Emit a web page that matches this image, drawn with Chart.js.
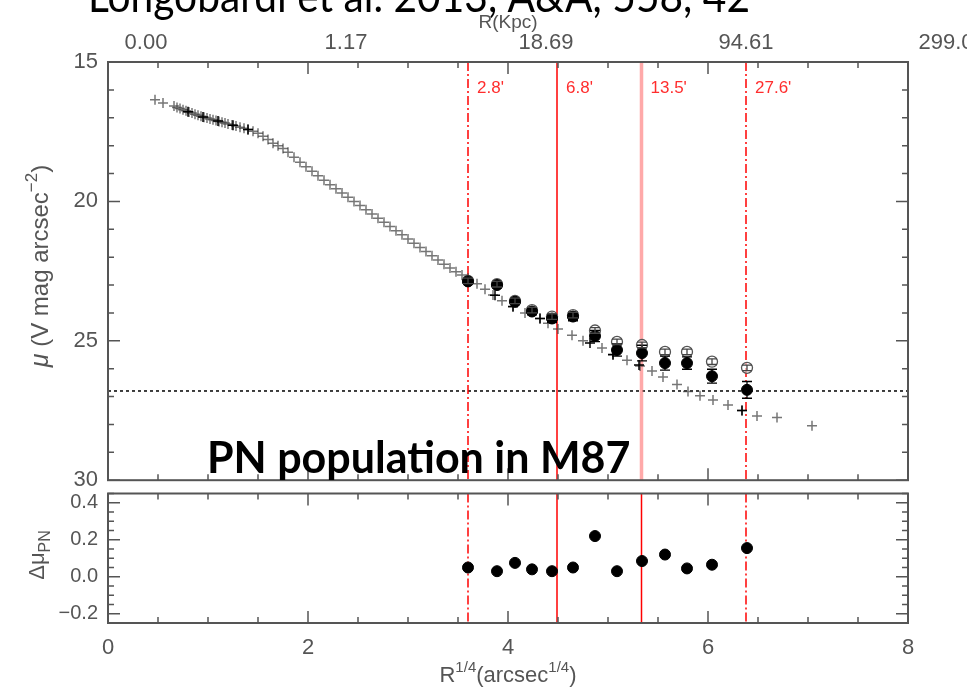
<!DOCTYPE html>
<html>
<head>
<meta charset="utf-8">
<script src="https://cdn.jsdelivr.net/npm/chart.js@4.4.0/dist/chart.umd.min.js"></script>
<style>
  body { margin: 0; background: #fff; }
  #wrap { position: relative; width: 967px; height: 690px; overflow: hidden; }
  #top { position: absolute; left: 0; top: 0; }
  #bot { position: absolute; left: 0; top: 487px; }
</style>
</head>
<body>
<div id="wrap">
  <canvas id="top" width="967" height="487"></canvas>
  <canvas id="bot" width="967" height="203"></canvas>
</div>
<script>
// surface brightness profile (crosses), x = R^1/4
var profileX = [0.47,0.55,0.66,0.69,0.72,0.75,0.78,0.81,0.84,0.87,0.90,0.93,0.96,0.99,1.02,1.05,1.08,1.11,1.14,1.17,1.20,1.24,1.28,1.32,1.36,1.40,1.45,1.50,1.55,1.60,1.65,1.70,1.75,1.80,1.86,1.92,1.98,2.04,2.10,2.16,2.22,2.28,2.34,2.40,2.46,2.52,2.58,2.64,2.70,2.76,2.82,2.88,2.94,3.00,3.06,3.12,3.18,3.24,3.30,3.36,3.42,3.48,3.54,3.60,3.69,3.77,3.85,3.94,4.05,4.17,4.32,4.40,4.50,4.64,4.75,4.94,5.05,5.19,5.32,5.44,5.55,5.69,5.80,5.92,6.05,6.20,6.34,6.49,6.69,7.04];
var profileY = [16.35,16.47,16.58,16.63,16.67,16.71,16.75,16.79,16.83,16.87,16.91,16.95,16.98,17.01,17.04,17.07,17.10,17.13,17.16,17.19,17.22,17.26,17.30,17.34,17.38,17.42,17.48,17.56,17.66,17.78,17.91,18.00,18.10,18.24,18.42,18.60,18.76,18.92,19.08,19.24,19.40,19.55,19.70,19.85,20.00,20.15,20.30,20.45,20.60,20.75,20.90,21.05,21.20,21.35,21.50,21.65,21.80,21.95,22.10,22.25,22.39,22.52,22.64,22.76,22.95,23.15,23.36,23.56,23.78,24.00,24.20,24.37,24.58,24.80,25.00,25.26,25.48,25.70,25.90,26.08,26.30,26.57,26.82,26.97,27.12,27.30,27.50,27.70,27.75,28.05];

// darker crosses
var blackX = [0.80, 0.95, 1.10, 1.25, 1.40, 3.87, 4.05, 4.32, 4.82, 5.05, 5.31, 6.34];
var blackY = [16.78, 16.97, 17.12, 17.27, 17.42, 23.37, 23.77, 24.20, 25.08, 25.50, 25.87, 27.50];

// PN points
var pnX = [3.60, 3.89, 4.07, 4.24, 4.44, 4.65, 4.87, 5.09, 5.34, 5.57, 5.79, 6.04, 6.39];
var pnY = [22.87, 23.00, 23.60, 23.95, 24.20, 24.13, 24.83, 25.33, 25.44, 25.80, 25.80, 26.27, 26.76];
var pnErr = [0.08, 0.10, 0.10, 0.12, 0.15, 0.15, 0.20, 0.22, 0.28, 0.25, 0.22, 0.25, 0.30];
var pnOpenY = [22.85, 22.97, 23.57, 23.90, 24.13, 24.08, 24.63, 25.04, 25.15, 25.40, 25.40, 25.75, 25.97];
var pnOpenErr = [0.10, 0.10, 0.10, 0.10, 0.10, 0.10, 0.10, 0.10, 0.10, 0.10, 0.10, 0.10, 0.10];

// residuals, lower panel
var deltaMu = [0.05, 0.03, 0.075, 0.04, 0.03, 0.05, 0.22, 0.03, 0.085, 0.12, 0.045, 0.065, 0.155];

// radii marked by red lines
var cutX = [3.60, 4.49, 5.335, 6.38];
var cutLabels = ["2.8'", "6.8'", "13.5'", "27.6'"];

var kpcTicks = ['0.00', '1.17', '18.69', '94.61', '299.0'];
var muTicks = [15, 20, 25, 30];
var dTicks = [-0.2, 0, 0.2, 0.4];
var dTickLabels = ['\u22120.2', '0.0', '0.2', '0.4'];
var limitMu = 26.8;

var axisFont = "'Liberation Sans', Arial, sans-serif";
var axisColor = '#555';

function pts(xs, ys) {
  return xs.map(function (x, i) { return { x: x, y: ys[i] }; });
}

// rich text with super/subscripts, centred on (x, y) baseline
function drawRich(ctx, segs, x, y, rot) {
  ctx.save();
  ctx.translate(x, y);
  if (rot) ctx.rotate(rot);
  var w = 0;
  segs.forEach(function (s) { ctx.font = s.f; w += ctx.measureText(s.t).width; });
  var cx = -w / 2;
  ctx.textBaseline = 'alphabetic';
  ctx.textAlign = 'left';
  segs.forEach(function (s) {
    ctx.font = s.f;
    ctx.fillStyle = axisColor;
    ctx.fillText(s.t, cx, s.dy || 0);
    cx += ctx.measureText(s.t).width;
  });
  ctx.restore();
}

function drawFrame(chart, o) {
  var ctx = chart.ctx, a = chart.chartArea;
  var xs = chart.scales.x, ys = chart.scales.y;
  ctx.save();
  ctx.strokeStyle = '#555';
  ctx.lineWidth = 2;
  ctx.setLineDash([]);
  ctx.strokeRect(a.left, a.top, a.right - a.left, a.bottom - a.top);
  ctx.lineWidth = 1.5;
  ctx.beginPath();
  var k, v, p, len;
  for (k = Math.ceil(xs.min / o.xMinor - 1e-6); k * o.xMinor <= xs.max + 1e-9; k++) {
    v = k * o.xMinor;
    len = Math.abs(v / o.xMajor - Math.round(v / o.xMajor)) < 1e-6 ? 12 : 6;
    p = xs.getPixelForValue(v);
    ctx.moveTo(p, a.bottom); ctx.lineTo(p, a.bottom - len);
    ctx.moveTo(p, a.top); ctx.lineTo(p, a.top + len);
  }
  for (k = Math.ceil(ys.min / o.yMinor - 1e-6); k * o.yMinor <= ys.max + 1e-9; k++) {
    v = k * o.yMinor;
    len = Math.abs(v / o.yMajor - Math.round(v / o.yMajor)) < 1e-6 ? 12 : 6;
    p = ys.getPixelForValue(v);
    ctx.moveTo(a.left, p); ctx.lineTo(a.left + len, p);
    ctx.moveTo(a.right, p); ctx.lineTo(a.right - len, p);
  }
  ctx.stroke();
  ctx.restore();
}

var panelDeco = {
  id: 'panelDeco',
  beforeDatasetsDraw: function (chart, args, o) {
    var ctx = chart.ctx, a = chart.chartArea;
    var xs = chart.scales.x, ys = chart.scales.y;
    ctx.save();
    ctx.beginPath();
    ctx.rect(a.left, a.top, a.right - a.left, a.bottom - a.top);
    ctx.clip();
    if (o.hline != null) {
      var hy = ys.getPixelForValue(o.hline);
      ctx.strokeStyle = '#000';
      ctx.lineWidth = 1.5;
      ctx.setLineDash([3, 3]);
      ctx.beginPath(); ctx.moveTo(a.left, hy); ctx.lineTo(a.right, hy); ctx.stroke();
    }
    cutX.forEach(function (cx, i) {
      var st = o.lines[i];
      var px = xs.getPixelForValue(cx);
      ctx.strokeStyle = st.color;
      ctx.lineWidth = st.width;
      ctx.setLineDash(st.dash);
      ctx.beginPath(); ctx.moveTo(px, a.top); ctx.lineTo(px, a.bottom); ctx.stroke();
      if (o.labels) {
        ctx.setLineDash([]);
        ctx.fillStyle = 'rgb(255,45,45)';
        ctx.font = '17px ' + axisFont;
        ctx.textBaseline = 'middle';
        ctx.textAlign = 'left';
        ctx.fillText(cutLabels[i], px + 9, a.top + 26);
      }
    });
    ctx.restore();
  },
  afterDatasetsDraw: function (chart) {
    var ctx = chart.ctx, xs = chart.scales.x, ys = chart.scales.y;
    ctx.save();
    chart.data.datasets.forEach(function (ds) {
      if (!ds.err) return;
      ctx.strokeStyle = ds.errColor;
      ctx.lineWidth = 1.3;
      ctx.beginPath();
      ds.data.forEach(function (d, i) {
        var px = xs.getPixelForValue(d.x);
        var y1 = ys.getPixelForValue(d.y - ds.err[i]);
        var y2 = ys.getPixelForValue(d.y + ds.err[i]);
        ctx.moveTo(px, y1); ctx.lineTo(px, y2);
        ctx.moveTo(px - 5, y1); ctx.lineTo(px + 5, y1);
        ctx.moveTo(px - 5, y2); ctx.lineTo(px + 5, y2);
      });
      ctx.stroke();
    });
    ctx.restore();
  },
  afterDraw: function (chart, args, o) {
    drawFrame(chart, o);
    var ctx = chart.ctx;
    if (o.which === 'top') {
      ctx.save();
      ctx.fillStyle = '#000';
      ctx.textAlign = 'left';
      ctx.textBaseline = 'alphabetic';
      ctx.font = "44px Lato, 'Open Sans', sans-serif";
      ctx.fillText('Longobardi et al. 2013, A&A, 558, 42', 88, 12, 662);
      ctx.font = "bold 43px Lato, 'Open Sans', sans-serif";
      ctx.fillText('PN population in M87', 207, 473, 463);
      ctx.restore();
      drawRich(ctx, [{ t: 'R(Kpc)', f: '19px ' + axisFont }], 508, 28);
      drawRich(ctx, [
        { t: '\u03bc', f: 'italic 25px ' + axisFont },
        { t: ' (V mag arcsec', f: '24px ' + axisFont },
        { t: '\u22122', f: '17px ' + axisFont, dy: -11 },
        { t: ')', f: '24px ' + axisFont }
      ], 48, 266, -Math.PI / 2);
    } else {
      drawRich(ctx, [
        { t: '\u0394\u03bc', f: '22px ' + axisFont },
        { t: 'PN', f: '16px ' + axisFont, dy: 6 }
      ], 44, 68, -Math.PI / 2);
      drawRich(ctx, [
        { t: 'R', f: '22px ' + axisFont },
        { t: '1/4', f: '15px ' + axisFont, dy: -10 },
        { t: '(arcsec', f: '22px ' + axisFont },
        { t: '1/4', f: '15px ' + axisFont, dy: -10 },
        { t: ')', f: '22px ' + axisFont }
      ], 508, 195);
    }
  }
};

function noPad(s) { s.paddingTop = 0; s.paddingBottom = 0; s.paddingLeft = 0; s.paddingRight = 0; }

var tickFont = { family: axisFont, size: 22 };

new Chart(document.getElementById('top'), {
  type: 'scatter',
  data: {
    datasets: [
      { label: 'PN', data: pts(pnX, pnY), err: pnErr, errColor: '#000',
        pointStyle: 'circle', pointRadius: 5.5, backgroundColor: '#000', borderColor: '#000', order: 0 },
      { label: 'PN corrected', data: pts(pnX, pnOpenY), err: pnOpenErr, errColor: '#444',
        pointStyle: 'circle', pointRadius: 5.5, backgroundColor: 'rgba(255,255,255,0.6)', borderColor: '#555', borderWidth: 1.3, order: 1 },
      { label: 'profile dark', data: pts(blackX, blackY),
        pointStyle: 'cross', pointRadius: 5, borderColor: '#000', borderWidth: 1.5, order: 2 },
      { label: 'profile', data: pts(profileX, profileY),
        pointStyle: 'cross', pointRadius: 5, borderColor: 'rgba(60,60,60,0.7)', borderWidth: 1.5, order: 3 }
    ]
  },
  options: {
    responsive: false,
    animation: false,
    layout: { padding: { left: 0, right: 59, top: 0, bottom: 4 } },
    plugins: {
      legend: { display: false },
      tooltip: { enabled: false },
      panelDeco: {
        which: 'top', hline: limitMu, labels: true,
        xMinor: 0.5, xMajor: 2, yMinor: 1, yMajor: 5,
        lines: [
          { color: 'rgb(255,0,0)', width: 1.5, dash: [9, 3, 2, 3] },
          { color: 'rgb(255,0,0)', width: 1.5, dash: [] },
          { color: 'rgba(255,140,140,0.75)', width: 3.5, dash: [] },
          { color: 'rgb(255,0,0)', width: 1.5, dash: [9, 3, 2, 3] }
        ]
      }
    },
    scales: {
      x: { type: 'linear', min: 0, max: 8, display: false },
      xTop: {
        type: 'linear', position: 'top', min: 0, max: 8,
        grid: { display: false, drawTicks: false }, border: { display: false },
        ticks: { stepSize: 2, padding: 6, labelOffset: 38, color: axisColor, font: tickFont,
          callback: function (v) { return kpcTicks[Math.round(v / 2)]; } },
        afterFit: function (s) { s.height = 62; noPad(s); }
      },
      y: {
        type: 'linear', reverse: true, min: 15, max: 30,
        grid: { display: false, drawTicks: false }, border: { display: false },
        afterBuildTicks: function (s) { s.ticks = muTicks.map(function (v) { return { value: v }; }); },
        ticks: { padding: 10, color: axisColor, font: tickFont },
        afterFit: function (s) { s.width = 108; noPad(s); }
      }
    }
  },
  plugins: [panelDeco]
});

new Chart(document.getElementById('bot'), {
  type: 'scatter',
  data: {
    datasets: [
      { label: 'delta mu PN', data: pts(pnX, deltaMu),
        pointStyle: 'circle', pointRadius: 5.5, backgroundColor: '#000', borderColor: '#000' }
    ]
  },
  options: {
    responsive: false,
    animation: false,
    layout: { padding: { left: 0, right: 59, top: 3, bottom: 0 } },
    plugins: {
      legend: { display: false },
      tooltip: { enabled: false },
      panelDeco: {
        which: 'bottom', hline: null, labels: false,
        xMinor: 0.5, xMajor: 2, yMinor: 0.05, yMajor: 0.2,
        lines: [
          { color: 'rgb(255,0,0)', width: 1.5, dash: [9, 3, 2, 3] },
          { color: 'rgb(255,0,0)', width: 1.5, dash: [] },
          { color: 'rgb(255,0,0)', width: 1.5, dash: [] },
          { color: 'rgb(255,0,0)', width: 1.5, dash: [9, 3, 2, 3] }
        ]
      }
    },
    scales: {
      x: {
        type: 'linear', min: 0, max: 8,
        grid: { display: false, drawTicks: false }, border: { display: false },
        ticks: { stepSize: 2, padding: 12, color: axisColor, font: tickFont },
        afterFit: function (s) { s.height = 67; noPad(s); }
      },
      y: {
        type: 'linear', min: -0.25, max: 0.45,
        grid: { display: false, drawTicks: false }, border: { display: false },
        afterBuildTicks: function (s) { s.ticks = dTicks.map(function (v) { return { value: v }; }); },
        ticks: { padding: 10, color: axisColor, font: { family: axisFont, size: 20 },
          callback: function (v) { return dTickLabels[dTicks.indexOf(v)]; } },
        afterFit: function (s) { s.width = 108; noPad(s); }
      }
    }
  },
  plugins: [panelDeco]
});
</script>
</body>
</html>
